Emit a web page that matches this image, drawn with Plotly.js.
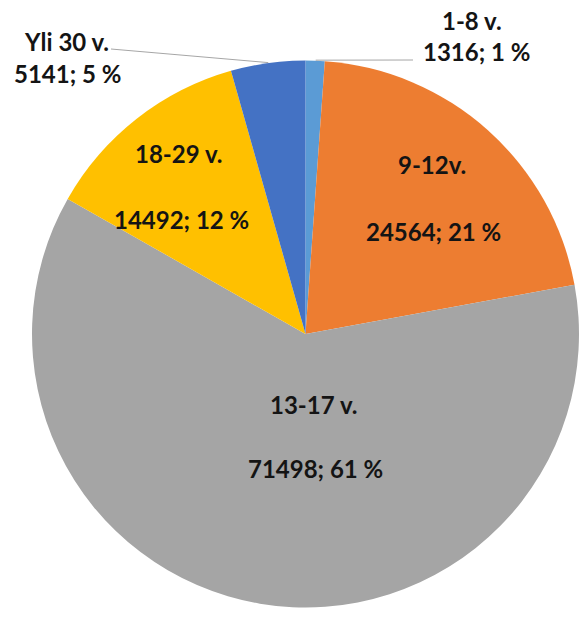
<!DOCTYPE html>
<html>
<head>
<meta charset="utf-8">
<script src="https://cdn.plot.ly/plotly-3.0.1.min.js"></script>
<style>
  body { margin: 0; background: #fff; overflow: hidden; }
  #chart { width: 579px; height: 617px; }
</style>
</head>
<body>
<div id="chart"></div>
<script>
// Pelaajat ikäryhmittäin
var ageGroups = ['1-8 v.', '9-12v.', '13-17 v.', '18-29 v.', 'Yli 30 v.'];
var players = [1316, 24564, 71498, 14492, 5141];
var percents = [1, 21, 61, 12, 5];
var sliceColors = ['#5B9BD5', '#ED7D31', '#A5A5A5', '#FFC000', '#4472C4'];

// label placement (pixels, center of text) -- name line and value line
var namePos = [[472, 21], [432, 165], [313, 404], [178, 154], [66, 42]];
var valuePos = [[476, 52], [433, 231], [315, 468], [181, 219], [67, 73]];
// leader line start (text side) for the small slices, null = no line
var leaderFrom = [[413, 60], null, null, null, [111, 49]];

var W = 579, H = 617;
var pieLeft = 32, pieTop = 60, pieSize = 548;
var cx = pieLeft + pieSize / 2, cy = pieTop + pieSize / 2, R = pieSize / 2;

function px(x) { return x / W; }
function py(y) { return 1 - y / H; }

var total = players.reduce(function (a, b) { return a + b; }, 0);

var annotations = [];
var shapes = [];
var txtFont = {family: 'Lato, "Open Sans", sans-serif', size: 24, color: '#141414', weight: 'bold'};
var start = 0;
for (var i = 0; i < ageGroups.length; i++) {
  annotations.push({
    xref: 'paper', yref: 'paper', x: px(namePos[i][0]), y: py(namePos[i][1]),
    text: ageGroups[i], showarrow: false, font: txtFont,
    xanchor: 'center', yanchor: 'middle'
  });
  annotations.push({
    xref: 'paper', yref: 'paper', x: px(valuePos[i][0]), y: py(valuePos[i][1]),
    text: players[i] + '; ' + percents[i] + ' %', showarrow: false, font: txtFont,
    xanchor: 'center', yanchor: 'middle'
  });
  var span = players[i] / total * 2 * Math.PI;
  if (leaderFrom[i]) {
    var mid = start + span / 2;
    var ex = cx + R * Math.sin(mid);
    var ey = cy - R * Math.cos(mid);
    shapes.push({
      type: 'line', xref: 'paper', yref: 'paper',
      x0: px(leaderFrom[i][0]), y0: py(leaderFrom[i][1]),
      x1: px(ex), y1: py(ey),
      line: {color: '#a6a6a6', width: 1}
    });
  }
  start += span;
}

var data = [{
  type: 'pie',
  labels: ageGroups,
  values: players,
  sort: false,
  direction: 'clockwise',
  rotation: 0,
  textinfo: 'none',
  hoverinfo: 'skip',
  marker: {colors: sliceColors, line: {width: 0}},
  domain: {x: [px(pieLeft), 1], y: [py(pieTop + pieSize), py(pieTop)]}
}];

var layout = {
  width: W,
  height: H,
  margin: {l: 0, r: 0, t: 0, b: 0},
  showlegend: false,
  paper_bgcolor: '#fff',
  annotations: annotations,
  shapes: shapes
};

Plotly.newPlot('chart', data, layout, {staticPlot: true});
</script>
</body>
</html>
